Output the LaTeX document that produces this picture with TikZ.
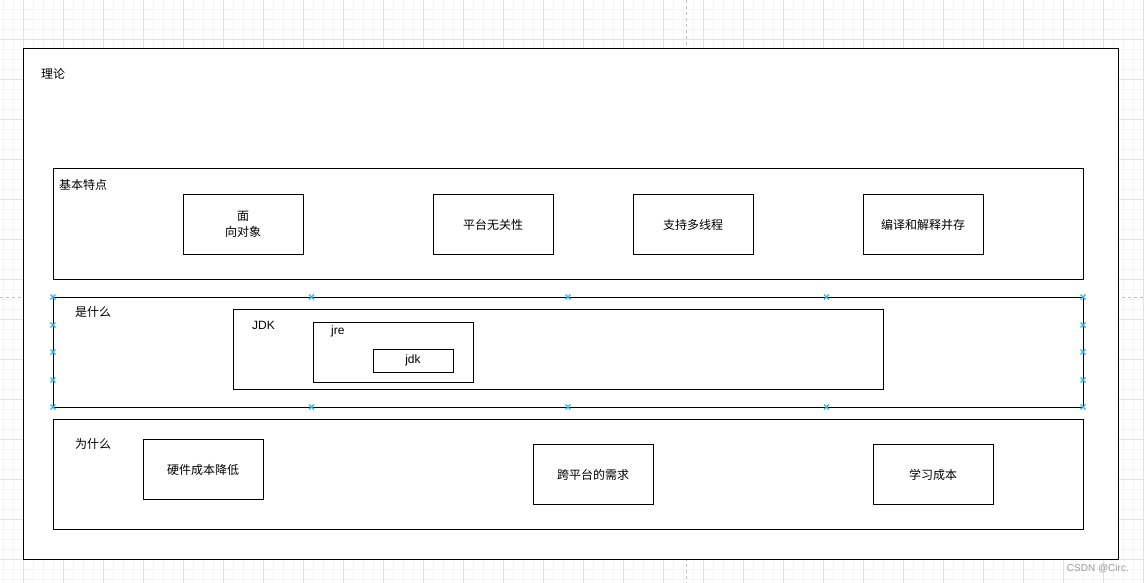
\documentclass[tikz,border=0pt]{standalone}
\usepackage{fontspec}
\setmainfont{Liberation Sans}
\newfontfamily\cjk{Noto Sans CJK SC}
\definecolor{minorgrid}{HTML}{F4F4F4}
\definecolor{majorgrid}{HTML}{E2E2E2}
\definecolor{pagebreak}{HTML}{C0C0C0}
\definecolor{handle}{HTML}{29B6F2}
\definecolor{wm}{HTML}{9A9A9A}
\tikzset{
  box/.style={draw=black, line width=1pt, fill=white, inner sep=0pt, align=center,
    font=\cjk\fontsize{12}{16}\selectfont},
  lbl/.style={anchor=west, inner sep=0pt, font=\cjk\fontsize{12}{14}\selectfont},
  lbllat/.style={anchor=west, inner sep=0pt, font=\fontsize{12}{14}\selectfont},
  handlemark/.style={handle, line width=1.1pt},
}
\newcommand{\hmark}[2]{\draw[handlemark] (#1-2.5,#2-2.5) -- (#1+2.5,#2+2.5) (#1-2.5,#2+2.5) -- (#1+2.5,#2-2.5);}
\begin{document}
\begin{tikzpicture}[x=1pt,y=-1pt]
\useasboundingbox (0,0) rectangle (1144,583);
\fill[white] (0,0) rectangle (1144,583);
% grid
\foreach \i in {0,...,114} {\draw[minorgrid, line width=0.8pt] (3.3+10*\i,0) -- (3.3+10*\i,583);}
\foreach \i in {0,...,58} {\draw[minorgrid, line width=0.8pt] (0,9.5+10*\i) -- (1144,9.5+10*\i);}
\foreach \i in {0,...,28} {\draw[majorgrid, line width=0.8pt] (23.3+40*\i,0) -- (23.3+40*\i,583);}
\foreach \i in {0,...,14} {\draw[majorgrid, line width=0.8pt] (0,-0.5+40*\i) -- (1144,-0.5+40*\i);}
% page breaks
\draw[pagebreak, dashed, line width=0.8pt] (686.7,0) -- (686.7,583);
\draw[pagebreak, dashed, line width=0.8pt] (0,297) -- (1144,297);
% outer container
\node[box, minimum width=1095pt, minimum height=510pt] (outer) at (570.5,304) {};
\node[lbl] (tlabel) at (41,74) {理论};
% 基本特点
\node[box, minimum width=1030pt, minimum height=110pt] (jbtd) at (568,224) {};
\node[lbl] (jbtdlabel) at (59,185) {基本特点};
\node[box, minimum width=120pt, minimum height=60pt] (oo) at (243,224.5) {面\\向对象};
\node[box, minimum width=120pt, minimum height=60pt] (plat) at (493,224.5) {平台无关性};
\node[box, minimum width=120pt, minimum height=60pt] (mt) at (693,224.5) {支持多线程};
\node[box, minimum width=120pt, minimum height=60pt] (comp) at (923,224.5) {编译和解释并存};
% 是什么
\node[box, minimum width=1030pt, minimum height=110pt] (ssm) at (568,352) {};
\node[lbl] (ssmlabel) at (75,312) {是什么};
\node[box, minimum width=650pt, minimum height=80pt] (JDK) at (558,349) {};
\node[lbllat] (JDKlabel) at (252,325) {JDK};
\node[box, minimum width=160pt, minimum height=60pt] (jre) at (393,352) {};
\node[lbllat] (jrelabel) at (331,331) {jre};
\node[box, minimum width=80pt, minimum height=23pt, font=\fontsize{12}{14}\selectfont] (jdk) at (413,360.5) {jdk};
% selection handles
\foreach \hx in {53,311.5,568,826.5,1083} {\hmark{\hx}{297}\hmark{\hx}{407}}
\foreach \hy in {325,352,380} {\hmark{53}{\hy}\hmark{1083}{\hy}}
% 为什么
\node[box, minimum width=1030pt, minimum height=110pt] (wsm) at (568,474) {};
\node[lbl] (wsmlabel) at (75,444) {为什么};
\node[box, minimum width=120pt, minimum height=60pt] (hw) at (203,469.5) {硬件成本降低};
\node[box, minimum width=120pt, minimum height=60pt] (xpt) at (593,474.5) {跨平台的需求};
\node[box, minimum width=120pt, minimum height=60pt] (learn) at (933,474.5) {学习成本};
% watermark
\node[anchor=east, inner sep=0pt, text=wm, font=\fontsize{10}{12}\selectfont] (wmark) at (1129,569) {CSDN @Circ.};
\end{tikzpicture}
\end{document}
